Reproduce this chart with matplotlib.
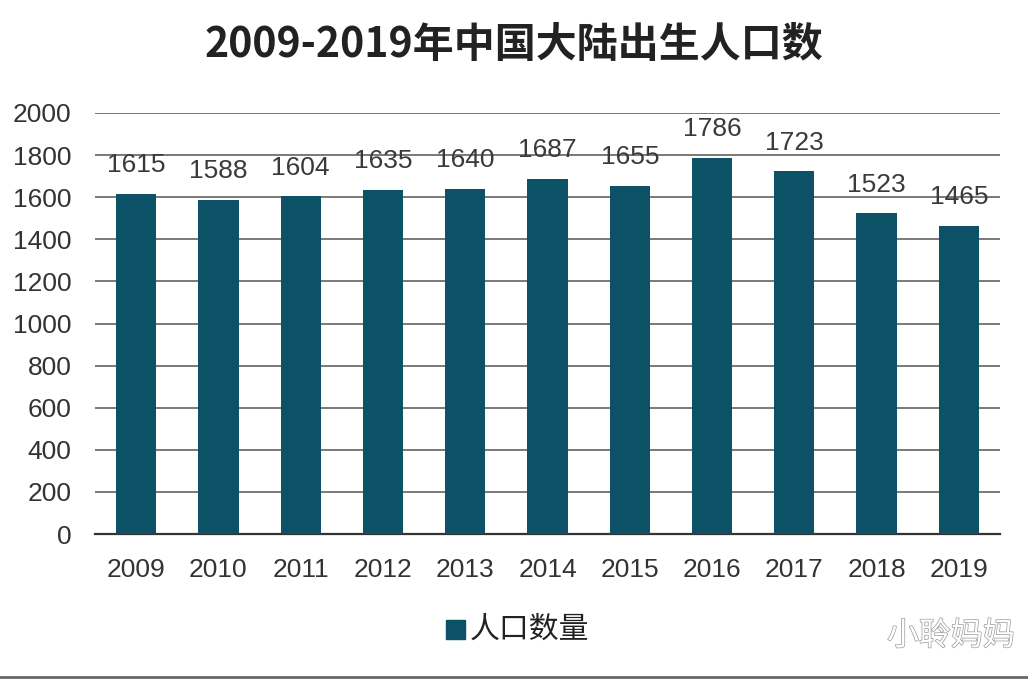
import matplotlib
matplotlib.use("Agg")
import matplotlib.pyplot as plt
import matplotlib.patheffects as pe
from matplotlib.patches import Rectangle

years = ["2009", "2010", "2011", "2012", "2013", "2014", "2015", "2016", "2017", "2018", "2019"]
births = [1615, 1588, 1604, 1635, 1640, 1687, 1655, 1786, 1723, 1523, 1465]
yticks = [0, 200, 400, 600, 800, 1000, 1200, 1400, 1600, 1800, 2000]
title = "2009-2019年中国大陆出生人口数"
series_name = "人口数量"
watermark = "小聆妈妈"

cjk = ["Noto Sans CJK SC", "DejaVu Sans"]
num_font = ["Liberation Sans", "DejaVu Sans"]
bar_color = "#0c5166"

fig = plt.figure(figsize=(10.28, 6.8), dpi=100)
ax = fig.add_axes([95/1028, 1 - 534/680, 905/1028, (534-113)/680])

x = list(range(len(years)))
bars = ax.bar(x, births, width=0.49, color=bar_color, zorder=3)
ax.set_xlim(-0.5, len(years) - 0.5)
ax.set_ylim(0, 2000)
ax.set_yticks(yticks)
ax.set_yticklabels([str(v) for v in yticks], fontfamily=num_font, fontsize=19, color="#333333")
ax.set_xticks(x)
ax.set_xticklabels(years, fontfamily=num_font, fontsize=19, color="#333333")
ax.tick_params(axis="x", length=0, pad=17)
ax.tick_params(axis="y", length=0, pad=17)
ax.grid(axis="y", color="#555555", linewidth=1.1, zorder=0)
for s in ["top", "right", "left"]:
    ax.spines[s].set_visible(False)
ax.spines["bottom"].set_color("#333333")
ax.spines["bottom"].set_linewidth(1.6)

for xi, v in zip(x, births):
    ax.annotate(str(v), (xi, v), xytext=(0, 12), textcoords="offset points",
                ha="center", va="bottom", fontfamily=num_font, fontsize=19,
                color="#3a3a3a", zorder=4)

fig.text(0.5, 1 - 45/680, title, ha="center", va="center", fontfamily=cjk,
         fontsize=29.5, fontweight="bold", color="#222222")

# legend
fig.patches.append(Rectangle((446/1028, 1 - 639/680), 19/1028, 19/680,
                             transform=fig.transFigure, color=bar_color))
fig.text(470/1028, 1 - 629/680, series_name, ha="left", va="center",
         fontfamily=cjk, fontsize=21.5, color="#222222")

# watermark
fig.text(1015/1028, 1 - 636/680, watermark, ha="right", va="center",
         fontfamily=cjk, fontsize=23, color="white", style="italic",
         path_effects=[pe.withStroke(linewidth=1.0, foreground="#999999")])

fig.add_artist(plt.Line2D([0, 1], [1 - 677/680, 1 - 677/680], transform=fig.transFigure,
                          color="#666666", linewidth=2))

fig.savefig("out.png", dpi=100, facecolor="white")
